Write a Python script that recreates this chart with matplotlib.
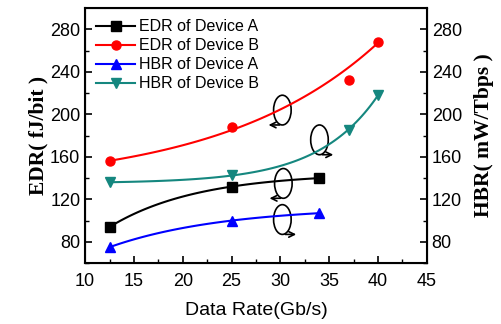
import numpy as np
import matplotlib.pyplot as plt
from matplotlib.patches import Ellipse

# data
x_a = [12.5, 25, 34]
x_b = [12.5, 25, 37, 40]
edr_a = [94, 132, 140]
edr_b = [156, 188, 232, 268]
hbr_a = [75, 100, 107]
hbr_b = [136, 143, 185, 218]

teal = '#15877f'

fig = plt.figure(figsize=(5.01, 3.24), dpi=100)
ax = fig.add_axes([0.170, 0.188, 0.682, 0.787])

def fitline(x, y, w=None):
    # weighted exponential fit y = y0 + A*exp(k*x), k found by grid search
    x = np.asarray(x, float)
    y = np.asarray(y, float)
    w = np.ones_like(x) if w is None else np.asarray(w, float)
    best = None
    for k in np.linspace(-0.3, 0.3, 1201):
        if abs(k) < 1e-6:
            continue
        M = np.column_stack([np.ones_like(x), np.exp(k * x)])
        c, *_ = np.linalg.lstsq(M * w[:, None], y * w, rcond=None)
        err = np.sum(((M @ c - y) * w) ** 2)
        if best is None or err < best[0]:
            best = (err, k, c)
    _, k, c = best
    xs = np.linspace(x.min(), x.max(), 100)
    return xs, c[0] + c[1] * np.exp(k * xs)

w_b = [2, 1, 0.6, 2]
series = [
    (x_a, edr_a, 'k', 's', 'EDR of Device A', None),
    (x_b, edr_b, 'red', 'o', 'EDR of Device B', w_b),
    (x_a, hbr_a, 'blue', '^', 'HBR of Device A', None),
    (x_b, hbr_b, teal, 'v', 'HBR of Device B', w_b),
]
for x, y, c, m, lab, w in series:
    xs, ys = fitline(x, y, w)
    ax.plot(xs, ys, color=c, lw=1.5)
    ax.plot(x, y, linestyle='none', marker=m, color=c, ms=6.5)
    ax.plot([], [], color=c, marker=m, ms=6.5, lw=1.5, label=lab)

ax.set_xlim(10, 45)
ax.set_ylim(60, 300)
ax.set_xticks(np.arange(10, 46, 5))
ax.set_xticks(np.arange(12.5, 45, 5), minor=True)
ax.set_yticks(np.arange(80, 281, 40))
ax.set_yticks(np.arange(60, 300, 20), minor=True)
ax.tick_params(which='both', direction='in', labelsize=13)
ax.tick_params(axis='x', pad=7)
ax.tick_params(which='major', length=5, width=1.2)
ax.tick_params(which='minor', length=3, width=1)
for lab in ax.get_xticklabels() + ax.get_yticklabels():
    lab.set_family('Liberation Sans')
for s in ax.spines.values():
    s.set_linewidth(1.5)

ax2 = ax.twinx()
ax2.set_ylim(60, 300)
ax2.set_yticks(np.arange(80, 281, 40))
ax2.set_yticks(np.arange(60, 300, 20), minor=True)
ax2.tick_params(which='both', direction='in', labelsize=13)
ax2.tick_params(which='major', length=5, width=1.2)
ax2.tick_params(which='minor', length=3, width=1)
for lab in ax2.get_yticklabels():
    lab.set_family('Liberation Sans')

ax.set_xlabel('Data Rate(Gb/s)', family='Liberation Sans', fontsize=14, labelpad=9)
ax.set_ylabel('EDR( fJ/bit )', family='Liberation Serif', fontweight='bold', fontsize=15.5, labelpad=1)
ax2.set_ylabel('HBR( mW/Tbps )', family='Liberation Serif', fontweight='bold', fontsize=15.5, labelpad=9)

leg = ax.legend(loc='upper left', frameon=False, prop={'family': 'Liberation Sans', 'size': 11.5},
                handlelength=2.4, handletextpad=0.3, labelspacing=0.25,
                borderaxespad=0.3, bbox_to_anchor=(0.0, 1.0))

# ellipse + arrow markers pointing to the axis used
marks = [(30.2, 204, -1), (34.0, 176, 1), (30.3, 135, -1), (30.2, 101, 1)]
for cx, cy, d in marks:
    ax.add_patch(Ellipse((cx, cy), 1.8, 28, fill=False, lw=1.2, color='k'))
    ax.annotate('', xy=(cx + d * 1.7, cy - 14), xytext=(cx, cy - 14),
                arrowprops=dict(arrowstyle='->', lw=1.2, color='k'))

fig.savefig('out.png', dpi=100)
